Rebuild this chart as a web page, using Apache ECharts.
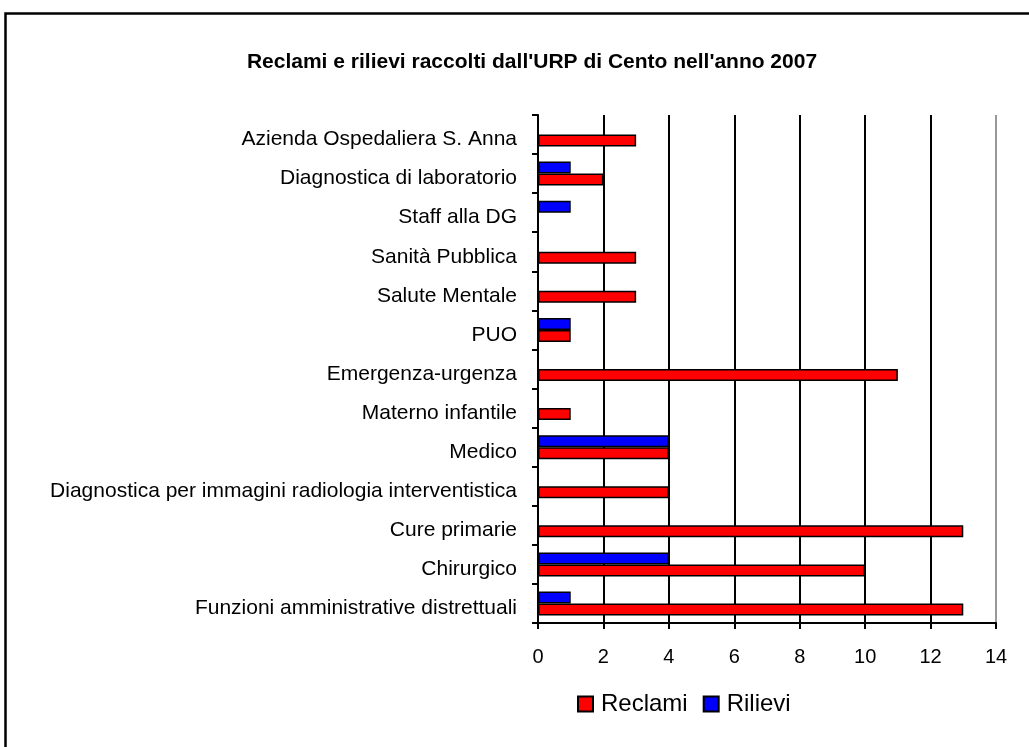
<!DOCTYPE html>
<html>
<head>
<meta charset="utf-8">
<script src="https://cdn.jsdelivr.net/npm/echarts@6/dist/echarts.min.js"></script>
<style>
html,body{margin:0;padding:0;background:#fff;}
#chart{width:1029px;height:747px;}
</style>
</head>
<body>
<div id="chart"></div>
<script>
const categories = [
  'Funzioni amministrative distrettuali',
  'Chirurgico',
  'Cure primarie',
  'Diagnostica per immagini radiologia interventistica',
  'Medico',
  'Materno infantile',
  'Emergenza-urgenza',
  'PUO',
  'Salute Mentale',
  'Sanità Pubblica',
  'Staff alla DG',
  'Diagnostica di laboratorio',
  'Azienda Ospedaliera S. Anna'
];
const reclami = [13, 10, 13, 4, 4, 1, 11, 1, 3, 3, 0, 2, 3];
const rilievi = [1, 4, 0, 0, 4, 0, 0, 1, 0, 0, 1, 1, 0];
const xTicks = [0, 2, 4, 6, 8, 10, 12, 14];

const chart = echarts.init(document.getElementById('chart'), null, {renderer: 'canvas'});
const font = 'Liberation Sans, Arial, sans-serif';
chart.setOption({
  backgroundColor: '#fff',
  animation: false,
  title: {
    text: "Reclami e rilievi raccolti dall'URP di Cento nell'anno 2007",
    left: 527, textAlign: 'center', top: 47,
    textStyle: {fontFamily: font, fontSize: 21, fontWeight: 'bold', color: '#000'}
  },
  graphic: [{
    type: 'rect', left: 3, top: 11, z: 100,
    shape: {x: 0, y: 0, width: 1100, height: 800},
    style: {fill: 'none', stroke: '#000', lineWidth: 2.5}
  }],
  legend: {
    data: ['Reclami', 'Rilievi'],
    left: 572, top: 687,
    icon: 'rect',
    itemWidth: 15, itemHeight: 15, itemGap: 15,
    textStyle: {fontFamily: font, fontSize: 24, color: '#000', padding: [0, 0, 0, 3]}
  },
  grid: {left: 538, right: 33, top: 115, bottom: 124, containLabel: false},
  xAxis: {
    type: 'value', min: 0, max: 14, interval: 2,
    axisLine: {show: true, lineStyle: {color: '#000', width: 2}},
    axisTick: {show: true, length: 6, lineStyle: {color: '#000', width: 2}},
    axisLabel: {fontFamily: font, fontSize: 20, color: '#000', margin: 24,
      formatter: v => xTicks.includes(v) ? String(v) : ''},
    splitLine: {show: true, lineStyle: {color: ['#000','#000','#000','#000','#000','#000','#000','#999'], width: 2}}
  },
  yAxis: {
    type: 'category', data: categories, boundaryGap: true,
    axisLine: {show: true, onZero: false, lineStyle: {color: '#000', width: 2}},
    axisTick: {show: true, length: 6, lineStyle: {color: '#000', width: 2}},
    axisLabel: {fontFamily: font, fontSize: 21, color: '#000', margin: 21, interval: 0,
      verticalAlign: 'top', lineHeight: 10},
    splitLine: {show: false}
  },
  series: [
    {
      name: 'Rilievi', type: 'bar', data: rilievi,
      barWidth: 12, barGap: '0%',
      itemStyle: {color: '#0000ff', borderColor: '#000', borderWidth: 1.5}
    },
    {
      name: 'Reclami', type: 'bar', data: reclami,
      barWidth: 12, barGap: '0%',
      itemStyle: {color: '#ff0000', borderColor: '#000', borderWidth: 1.5}
    }
  ]
});
</script>
</body>
</html>
